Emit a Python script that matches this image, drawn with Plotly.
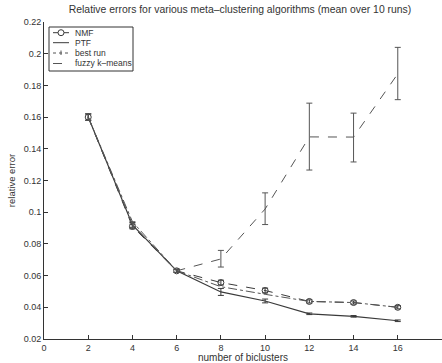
import plotly.graph_objects as go

x_vals = [2, 4, 6, 8, 10, 12, 14, 16]

nmf = [0.160, 0.091, 0.063, 0.0556, 0.0506, 0.0437, 0.0430, 0.0400]
nmf_err = [0.002, 0.0015, 0.001, 0.0015, 0.0015, 0.001, 0.001, 0.001]

ptf = [0.160, 0.092, 0.063, 0.0497, 0.0440, 0.0359, 0.0343, 0.0315]
ptf_err = [0.002, 0.0015, 0.001, 0.0022, 0.0012, 0.0005, 0.0005, 0.0005]

best = [0.160, 0.094, 0.063, 0.0530, 0.0482, 0.0437, 0.0430, 0.0400]

fuzzy = [0.160, 0.092, 0.063, 0.0705, 0.1020, 0.1475, 0.1474, 0.1873]
fuzzy_err_plus = [0.002, 0.002, 0.001, 0.0054, 0.0102, 0.0213, 0.0151, 0.0167]
fuzzy_err_minus = [0.002, 0.002, 0.001, 0.0051, 0.0098, 0.0209, 0.0157, 0.0163]

series_names = ["NMF", "PTF", "best run", "fuzzy k\u2013means"]

y_ticks = [0.02, 0.04, 0.06, 0.08, 0.10, 0.12, 0.14, 0.16, 0.18, 0.20, 0.22]
y_tick_text = ["0.02", "0.04", "0.06", "0.08", "0.1", "0.12", "0.14", "0.16", "0.18", "0.2", "0.22"]
x_ticks = [0, 2, 4, 6, 8, 10, 12, 14, 16, 18]

ink = "#3a3a3a"
ink2 = "#555555"
font = "Liberation Sans, Arial, sans-serif"

W, H = 442, 363
ML, MR, MT, MB = 44, 0, 22, 24
PW, PH = W - ML - MR, H - MT - MB


def px(xp):
    return (xp - ML) / PW


def py(yp):
    return (H - MB - yp) / PH


fig = go.Figure()

styles = [
    dict(mode="lines+markers", line=dict(color=ink, width=1, dash="dash"),
         marker=dict(symbol="circle-open", size=6, color=ink, line=dict(width=1))),
    dict(mode="lines", line=dict(color=ink, width=1.2)),
    dict(mode="lines", line=dict(color=ink2, width=1, dash="dashdot")),
    dict(mode="lines", line=dict(color=ink2, width=1, dash="dash")),
]

fig.add_trace(go.Scatter(
    x=x_vals, y=nmf, name=series_names[0], showlegend=False, **styles[0],
    error_y=dict(type="data", array=nmf_err, color=ink, thickness=1, width=3),
))
fig.add_trace(go.Scatter(
    x=x_vals, y=ptf, name=series_names[1], showlegend=False, **styles[1],
    error_y=dict(type="data", array=ptf_err, color=ink, thickness=1, width=3),
))
fig.add_trace(go.Scatter(
    x=x_vals, y=best, name=series_names[2], showlegend=False, **styles[2],
))
fig.add_trace(go.Scatter(
    x=x_vals, y=fuzzy, name=series_names[3], showlegend=False, **styles[3],
    error_y=dict(type="data", array=fuzzy_err_plus, arrayminus=fuzzy_err_minus,
                 color=ink2, thickness=1, width=3),
))

# compact legend box drawn with shapes + annotations
shapes = [dict(type="rect", xref="paper", yref="paper",
               x0=px(49), x1=px(133), y0=py(71), y1=py(27),
               line=dict(color="#333333", width=1), fillcolor="white", layer="above")]
annotations = []
row_y = [32.7, 42.7, 53.0, 63.5]
line_specs = [("solid", ink), ("solid", ink), ("dot", ink2), ("dash", ink2)]
for i, name in enumerate(series_names):
    dash, col = line_specs[i]
    shapes.append(dict(type="line", xref="paper", yref="paper",
                       x0=px(53), x1=px(69), y0=py(row_y[i]), y1=py(row_y[i]),
                       line=dict(color=col, width=1, dash=dash), layer="above"))
    annotations.append(dict(text=name, xref="paper", yref="paper",
                            x=px(73), y=py(row_y[i]), xanchor="left", yanchor="middle",
                            showarrow=False, font=dict(size=8.5, color="#333333")))
# NMF circle marker in the legend sample
shapes.append(dict(type="circle", xref="paper", yref="paper",
                   x0=px(58), x1=px(64), y0=py(row_y[0] + 3), y1=py(row_y[0] - 3),
                   line=dict(color=ink, width=1), fillcolor="white", layer="above"))
# best-run marker tick in the legend sample
shapes.append(dict(type="line", xref="paper", yref="paper",
                   x0=px(61), x1=px(61), y0=py(row_y[2] + 2), y1=py(row_y[2] - 2.5),
                   line=dict(color=ink2, width=1), layer="above"))

fig.update_layout(
    width=W, height=H,
    margin=dict(l=ML, r=MR, t=MT, b=MB),
    paper_bgcolor="white", plot_bgcolor="white",
    font=dict(family=font, size=9, color="#333333"),
    title=dict(text="Relative errors for various meta\u2013clustering algorithms (mean over 10 runs)",
               x=0.543, xanchor="center", y=0.975, yanchor="middle",
               font=dict(size=10.4, color="#333333")),
    showlegend=False,
    shapes=shapes,
    annotations=annotations,
)
fig.update_xaxes(
    range=[0, 18], tickvals=x_ticks, ticks="inside", ticklen=4,
    tickcolor="#333333", showline=True, linecolor="#333333", linewidth=1,
    showgrid=False, zeroline=False, mirror=False,
    title=dict(text="number of biclusters", standoff=2, font=dict(size=10)),
    tickfont=dict(size=9),
)
fig.update_yaxes(
    range=[0.02, 0.22], tickvals=y_ticks, ticktext=y_tick_text, ticks="inside", ticklen=4,
    tickcolor="#333333", showline=True, linecolor="#333333", linewidth=1,
    showgrid=False, zeroline=False, mirror=False,
    title=dict(text="relative error", standoff=6, font=dict(size=9.5)),
    tickfont=dict(size=9),
)

fig.write_html("out.html")
